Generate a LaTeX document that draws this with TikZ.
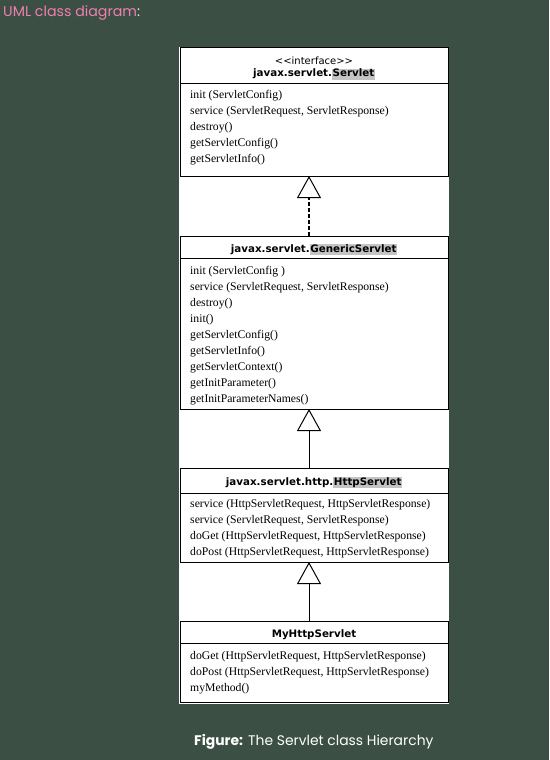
\documentclass[tikz,border=0pt]{standalone}
\usepackage{fontspec}
\usetikzlibrary{arrows.meta}
\newfontfamily\memberfont{Liberation Serif}
\newfontfamily\headfont{DejaVu Sans}
\newfontfamily\pagefont{Poppins}
\definecolor{pagebg}{HTML}{3C4F45}
\definecolor{hlgray}{HTML}{C4C4C4}
\definecolor{linkpink}{HTML}{EE7FAE}
\definecolor{colonwhite}{HTML}{EEE8D8}
\newcommand\hlword[1]{{\setlength\fboxsep{0.6pt}\colorbox{hlgray}{\vphantom{Ay}#1}}}
\begin{document}
\begin{tikzpicture}[x=1pt,y=-1pt,
  classbox/.style={draw=black, line width=1pt, fill=white, anchor=north west,
    minimum width=268pt, inner sep=0pt, outer sep=0pt},
  divider/.style={draw=black, line width=1pt},
  member/.style={anchor=base west, inner sep=0pt,
    font=\memberfont\fontsize{11.7}{14}\selectfont},
  head/.style={anchor=base, inner sep=0pt,
    font=\headfont\bfseries\fontsize{10.3}{12}\selectfont},
  stereo/.style={anchor=base, inner sep=0pt,
    font=\headfont\fontsize{10}{12}\selectfont},
  gentip/.style={-{Triangle[length=22pt, width=24pt, fill=white, line width=1pt]}},
  extends/.style={gentip, draw=black, line width=1pt},
  implements/.style={gentip, draw=black, line width=2pt, dash pattern=on 4pt off 2pt},
  pagetext/.style={anchor=base west, inner sep=0pt}
]
\useasboundingbox (0,0) rectangle (549,760);
\fill[pagebg] (0,0) rectangle (549,760);
\fill[white] (179,47) rectangle (449,704);

% title and caption
\node[pagetext, font=\pagefont\fontsize{14.2}{16}\selectfont] (title) at (3,17)
  {\textcolor{linkpink}{UML class diagram}\textcolor{colonwhite}{:}};
\node[pagetext, text=white, font=\pagefont\fontsize{13.9}{16}\selectfont] (caption) at (194,745)
  {\textbf{Figure:} The Servlet class Hierarchy};

% class boxes
\node[classbox, minimum height=128pt] (servlet) at (180,48) {};
\node[classbox, minimum height=173pt] (generic) at (180,236) {};
\node[classbox, minimum height=94pt] (http) at (180,468) {};
\node[classbox, minimum height=81pt] (my) at (180,621) {};

\draw[divider] (180,83) -- (448,83);
\draw[divider] (180,258) -- (448,258);
\draw[divider] (180,493) -- (448,493);
\draw[divider] (180,643) -- (448,643);

% headers
\node[stereo] (st1) at (314,64.5) {<<interface>>};
\node[head] (h1) at (314,77) {javax.servlet.\hlword{Servlet}};
\node[head] (h2) at (314,252) {javax.servlet.\hlword{GenericServlet}};
\node[head] (h3) at (314,485) {javax.servlet.http.\hlword{HttpServlet}};
\node[head] (h4) at (314,637) {MyHttpServlet};

% members
\foreach \t [count=\i] in {{init (ServletConfig)},
  {service (ServletRequest, ServletResponse)}, {destroy()},
  {getServletConfig()}, {getServletInfo()}}
  \node[member] (ma\i) at (190,{98+16*(\i-1)}) {\t};
\foreach \t [count=\i] in {{init (ServletConfig )},
  {service (ServletRequest, ServletResponse)}, {destroy()}, {init()},
  {getServletConfig()}, {getServletInfo()}, {getServletContext()},
  {getInitParameter()}, {getInitParameterNames()}}
  \node[member] (mb\i) at (190,{274+16*(\i-1)}) {\t};
\foreach \t [count=\i] in {{service (HttpServletRequest, HttpServletResponse)},
  {service (ServletRequest, ServletResponse)},
  {doGet (HttpServletRequest, HttpServletResponse)},
  {doPost (HttpServletRequest, HttpServletResponse)}}
  \node[member] (mc\i) at (190,{507+16*(\i-1)}) {\t};
\foreach \t [count=\i] in {{doGet (HttpServletRequest, HttpServletResponse)},
  {doPost (HttpServletRequest, HttpServletResponse)}, {myMethod()}}
  \node[member] (md\i) at (190,{659+16*(\i-1)}) {\t};

% generalisations
\draw[implements] ([xshift=-5pt]generic.north) -- ([xshift=-5pt]servlet.south);
\draw[extends] ([xshift=-5pt]http.north) -- ([xshift=-5pt]generic.south);
\draw[extends] ([xshift=-5pt]my.north) -- ([xshift=-5pt]http.south);
\end{tikzpicture}
\end{document}
